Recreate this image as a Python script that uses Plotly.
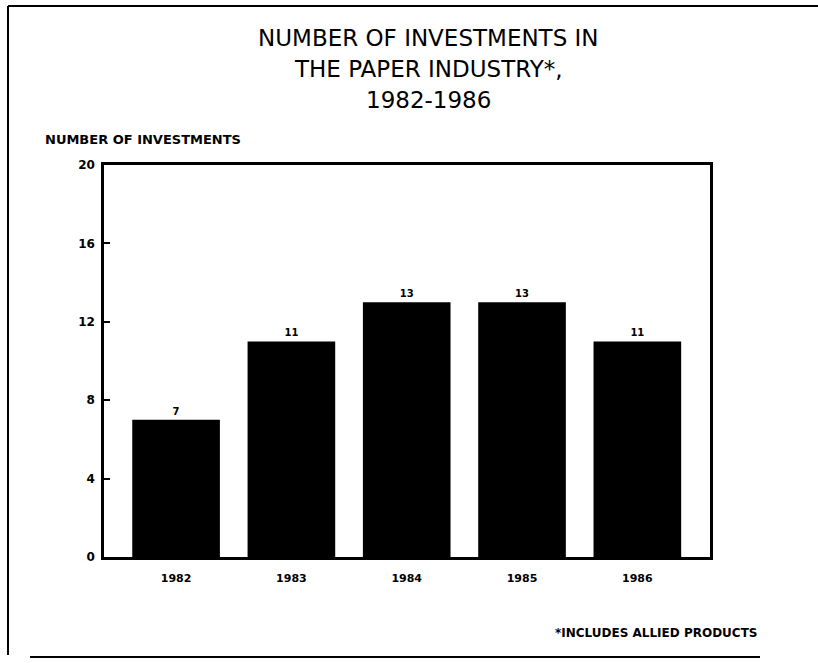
import plotly.graph_objects as go

years = ["1982", "1983", "1984", "1985", "1986"]
investments = [7, 11, 13, 13, 11]
bar_labels = ["7", "11", "13", "13", "11"]
y_ticks = [0, 4, 8, 12, 16, 20]

W, H = 818, 663
L, R, T, B = 104, 108, 165, 106
pw, ph = W - L - R, H - T - B

def px(x):
    return (x - L) / pw

def py(y):
    return (H - B - y) / ph

xpos = list(range(len(years)))

fig = go.Figure()
fig.add_trace(go.Bar(
    x=xpos, y=investments, width=0.76,
    marker=dict(color="black", line=dict(width=0)),
    text=["<b>%s</b>" % t for t in bar_labels], textposition="outside",
    textfont=dict(family="DejaVu Sans", size=10, color="black"),
    cliponaxis=False,
))

fig.update_layout(
    width=W, height=H,
    margin=dict(l=L, r=R, t=T, b=B),
    paper_bgcolor="white", plot_bgcolor="white",
    showlegend=False,
    font=dict(family="DejaVu Sans", color="black"),
    xaxis=dict(
        range=[-0.625, 4.63], tickvals=xpos, ticktext=["<b>%s</b>" % y for y in years],
        showgrid=False, zeroline=False, showline=True, linecolor="black", linewidth=2.5,
        mirror=True, ticks="", tickfont=dict(size=11, family="DejaVu Sans"), ticklabelstandoff=9,
    ),
    yaxis=dict(
        range=[0, 20], tickvals=y_ticks, ticktext=["<b>%d</b>" % v for v in y_ticks],
        showgrid=False, zeroline=False, showline=True, linecolor="black", linewidth=2.5,
        mirror=True, ticks="inside", ticklen=6, tickwidth=2, tickcolor="black",
        tickfont=dict(size=12, family="DejaVu Sans"), ticklabelstandoff=4,
    ),
    bargap=0.2,
)

title_lines = ["NUMBER OF INVESTMENTS IN", "THE PAPER INDUSTRY*,", "1982-1986"]
for i, line in enumerate(title_lines):
    fig.add_annotation(
        text=line, xref="paper", yref="paper", x=px(428), y=py(38 + 31 * i),
        showarrow=False, xanchor="center", yanchor="middle",
        font=dict(family="DejaVu Sans", size=23, color="black"),
    )

fig.add_annotation(
    text="<b>NUMBER OF INVESTMENTS</b>", xref="paper", yref="paper",
    x=px(43), y=py(139), showarrow=False, xanchor="left", yanchor="middle",
    font=dict(family="DejaVu Sans", size=13, color="black"),
)
fig.add_annotation(
    text="<b>*INCLUDES ALLIED PRODUCTS</b>", xref="paper", yref="paper",
    x=px(553), y=py(633), showarrow=False, xanchor="left", yanchor="middle",
    font=dict(family="DejaVu Sans", size=12, color="black"),
)

line_style = dict(color="black", width=2)
fig.add_shape(type="line", xref="paper", yref="paper",
              x0=px(8), x1=px(818), y0=py(6), y1=py(6), line=line_style)
fig.add_shape(type="line", xref="paper", yref="paper",
              x0=px(8), x1=px(8), y0=py(6), y1=py(655), line=line_style)
fig.add_shape(type="line", xref="paper", yref="paper",
              x0=px(30), x1=px(760), y0=py(657), y1=py(657), line=line_style)

fig.write_html("out.html", config={"displayModeBar": False},
               post_script="document.body.style.margin='0';")
